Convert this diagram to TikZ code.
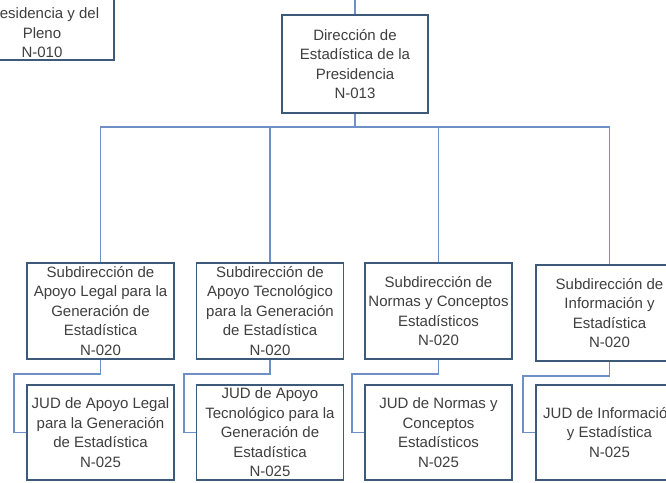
\documentclass[tikz,border=0pt]{standalone}
\usepackage{fontspec}
\setmainfont{Liberation Sans}
\usetikzlibrary{calc}
\definecolor{boxline}{HTML}{3D5A7A}
\definecolor{conn}{HTML}{6F8FC7}
\definecolor{txt}{HTML}{3F3F3F}
\tikzset{
  orgbox/.style={draw=boxline, line width=1.8pt, fill=white, text=txt, align=center,
    minimum width=147pt, inner sep=0pt, font=\fontsize{15}{19.5}\selectfont},
  subbox/.style={orgbox, minimum height=96pt},
  judbox/.style={orgbox, minimum height=95pt},
  link/.style={draw=conn, line width=1.8pt}
}
\begin{document}
\begin{tikzpicture}[x=1pt,y=-1pt]
\path[use as bounding box, clip] (0,0) rectangle (666,482);
\fill[white] (0,0) rectangle (666,482);
% top-left partial box
\node[orgbox, minimum width=144pt, inner ysep=2pt, anchor=south] (n010) at (42,61)
  {\strut\\Presidencia y del\\Pleno\\N-010};
% main box
\node[orgbox, minimum width=146pt, minimum height=98pt] (n013) at (355,64)
  {Dirección de\\Estadística de la\\Presidencia\\N-013};
\coordinate (topin) at (355,0);
\coordinate (bar) at (355,127);
% sub boxes
\node[subbox] (s1) at (100.5,311) {Subdirección de\\Apoyo Legal para la\\Generación de\\Estadística\\N-020};
\node[subbox] (s2) at (270,311) {Subdirección de\\Apoyo Tecnológico\\para la Generación\\de Estadística\\N-020};
\node[subbox] (s3) at (438.5,311) {Subdirección de\\Normas y Conceptos\\Estadísticos\\N-020};
\node[subbox] (s4) at (609.5,313) {Subdirección de\\Información y\\Estadística\\N-020};
% JUD boxes
\node[judbox] (j1) at (100.5,432.5) {JUD de Apoyo Legal\\para la Generación\\de Estadística\\N-025};
\node[judbox] (j2) at (270,432.5) {JUD de Apoyo\\Tecnológico para la\\Generación de\\Estadística\\N-025};
\node[judbox] (j3) at (438.5,432.5) {JUD de Normas y\\Conceptos\\Estadísticos\\N-025};
\node[judbox] (j4) at (609.5,432.5) {JUD de Información\\y Estadística\\N-025};
% connectors
\draw[link] (topin) -- (n013.north);
\draw[link] (n013.south) -- (bar);
\draw[link] (s1.north) |- (bar);
\draw[link] (s2.north) |- (bar);
\draw[link] (s3.north) |- (bar);
\draw[link] (s4.north) |- (bar);
\foreach \i in {1,2,3,4}{
  \draw[link] (s\i.south) -- ++(0,14) -| ($(j\i.west)+(-12,0)$) -- (j\i.west);
}
\end{tikzpicture}
\end{document}
